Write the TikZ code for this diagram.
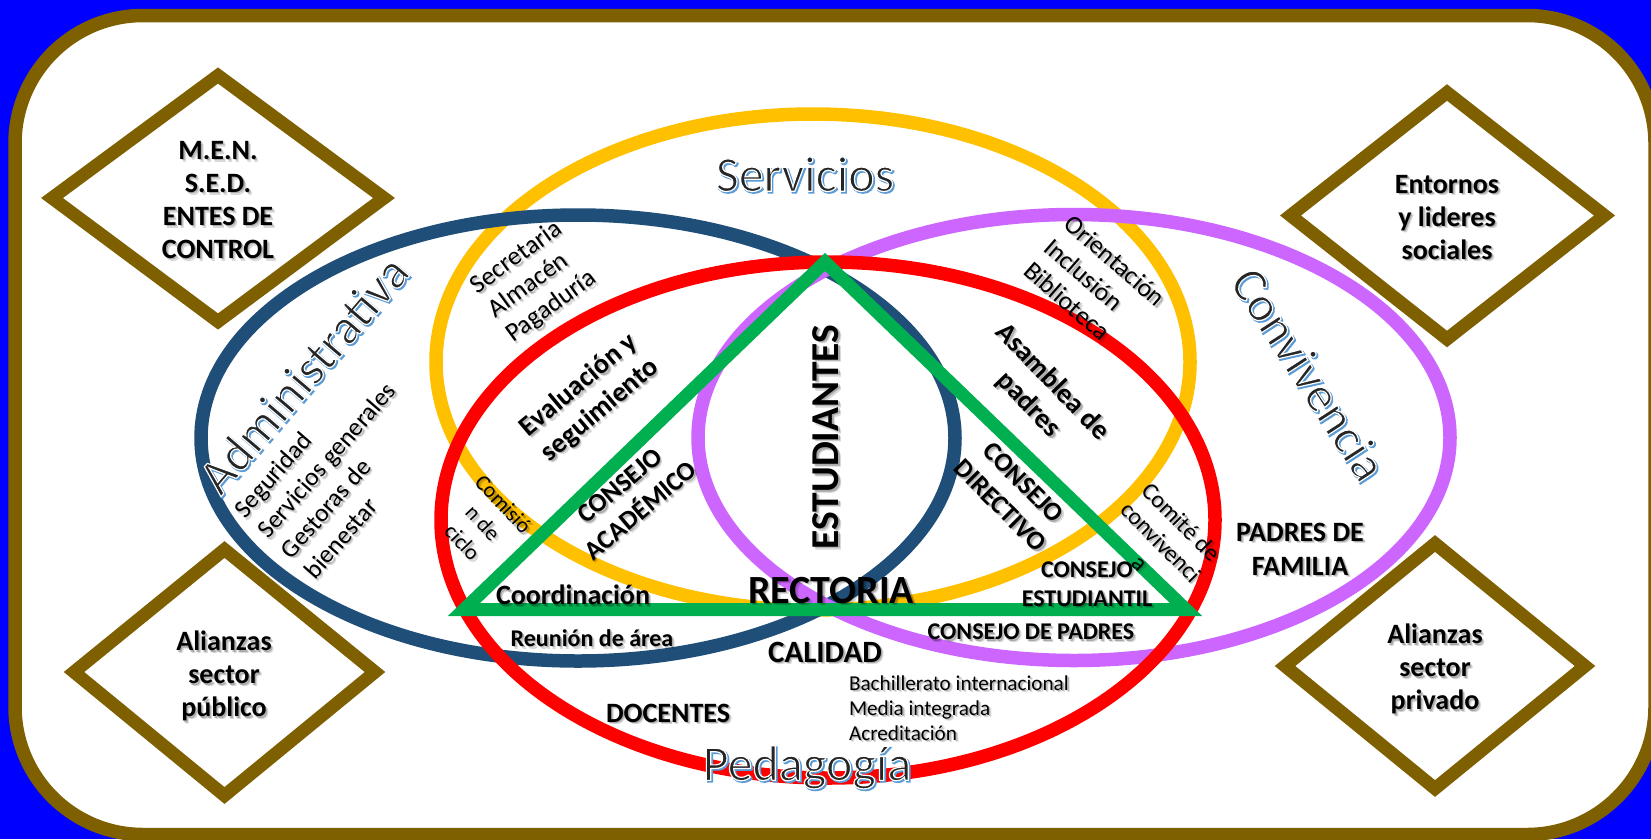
\documentclass[tikz,border=0pt]{standalone}
\usepackage{fontspec}
\setmainfont{Carlito}
\definecolor{framebrown}{HTML}{7F6000}
\definecolor{admblue}{HTML}{1F4E79}
\definecolor{servyellow}{HTML}{FFC000}
\definecolor{convpurple}{HTML}{CC66FF}
\definecolor{pedred}{HTML}{FF0000}
\definecolor{triangreen}{HTML}{00B050}
\definecolor{wablue}{HTML}{5B9BD5}
\definecolor{wadark}{HTML}{262626}
\tikzset{
  ring/.style={draw,line width=13.5pt},
  rhomb/.style={draw=framebrown,line width=13pt,miter limit=10,line join=miter},
  lab/.style={inner sep=0pt,outer sep=0pt,align=center,text depth=0pt},
  bd/.style={font=\bfseries\fontsize{#1}{#1}\selectfont},
  bd/.default=28,
}
% text with a soft drop shadow: lbl{name}{x}{y}{rot}{node options}{text}
\newcommand{\lbl}[6]{%
  \node[lab,#5,rotate=#4,text=black,opacity=.15] at (#2+2.6,#3+2.6) {#6};
  \node[lab,#5,rotate=#4,text=black,opacity=.22] at (#2+1.4,#3+1.4) {#6};
  \node[lab,#5,rotate=#4,text=black] (#1) at (#2,#3) {#6};
}
% wordart title: blue offset copy, then dark fill with white outline
\newcommand{\wordart}[5]{%
  \node[lab,rotate=#4,text=wablue,font=\fontsize{50}{50}\selectfont] at (#2+1.5,#3+1.5)
    {\special{pdf:code 2 Tr 1.6 w}#5\special{pdf:code 0 Tr}};
  \node[lab,rotate=#4,text=wadark,font=\fontsize{50}{50}\selectfont] (#1) at (#2,#3)
    {\special{pdf:code 2 Tr 1.2 w 1 1 1 RG}#5\special{pdf:code 0 Tr}};
}
\newcommand{\blk}[2]{\fontsize{#1}{#2}\selectfont}
\begin{document}
\begin{tikzpicture}[x=1pt,y=-1pt]
\useasboundingbox (0,0) rectangle (1651,839);
\fill[blue] (0,0) rectangle (1651,839);
\filldraw[fill=white,draw=framebrown,line width=13.5pt,rounded corners=128pt] (15,15.5) rectangle (1655,834.5);

% diamonds
\draw[rhomb] (52,198) -- (218,75.5) -- (384,198) -- (218,321.5) -- cycle;
\draw[rhomb] (74,672) -- (224.5,549.5) -- (375,672) -- (224.5,795.5) -- cycle;
\draw[rhomb] (1290.5,215.5) -- (1447,92.5) -- (1604.5,215.5) -- (1447,339) -- cycle;
\draw[rhomb] (1285,666) -- (1435,543.5) -- (1585,666) -- (1435,788.5) -- cycle;

% ellipses
\draw[ring,draw=servyellow] (813,362) ellipse [x radius=377,y radius=248];
\draw[ring,draw=admblue] (578,438) ellipse [x radius=377,y radius=223];
\draw[ring,draw=convpurple] (1074,437.5) ellipse [x radius=376,y radius=223];
\draw[ring,draw=pedred] (828,520) ellipse [x radius=387,y radius=258];

% triangle
\draw[draw=triangreen,line width=13pt,miter limit=10,line join=miter] (825,262) -- (1186,609.5) -- (464,609.5) -- cycle;

% titles
\wordart{tserv}{805}{174}{0}{Servicios}
\wordart{tadm}{303}{374}{49.5}{Administrativa}
\wordart{tconv}{1309}{374}{-57}{Convivencia}
\wordart{tped}{807}{763}{0}{Pedagogía}

% diamond labels
\lbl{dmen}{218}{200}{0}{bd}{M.E.N.\\[5pt]S.E.D.\\[5pt]ENTES DE\\[5pt]CONTROL}
\lbl{dpub}{224}{674}{0}{bd}{Alianzas\\[5pt]sector\\[5pt]público}
\lbl{dent}{1447}{217}{0}{bd}{Entornos\\[5pt]y lideres\\[5pt]sociales}
\lbl{dpri}{1435}{667}{0}{bd}{Alianzas\\[5pt]sector\\[5pt]privado}

% bold labels
\lbl{lest}{826}{437}{90}{bd=39.5}{ESTUDIANTES}
\lbl{lrec}{831}{590}{0}{bd=40}{RECTORIA}
\lbl{lcal}{825}{652}{0}{bd=31}{CALIDAD}
\lbl{lcpa}{1031}{632}{0}{bd=24}{CONSEJO DE PADRES}
\lbl{ldoc}{668}{713}{0}{bd=28}{DOCENTES}
\lbl{lcoo}{573}{595}{0}{bd=28}{Coordinación}
\lbl{lreu}{592}{638}{0}{bd=24}{Reunión de área}
\lbl{lces}{1087}{584}{0}{bd=24}{CONSEJO\\[5pt]ESTUDIANTIL}
\lbl{lpad}{1300}{549}{0}{bd=28}{PADRES DE\\[6pt]FAMILIA}
\lbl{leva}{588}{396}{40}{bd=28}{Evaluación y\\[5pt]seguimiento}
\lbl{laca}{630}{498}{40}{bd=26.5}{CONSEJO\\[6pt]ACADÉMICO}
\lbl{lasa}{1042}{392}{-46}{bd=28}{Asamblea de\\[5pt]padres}
\lbl{ldir}{1012}{494}{-45}{bd=26.5}{CONSEJO\\[6pt]DIRECTIVO}

% regular labels
\lbl{rbac}{849}{708}{0}{anchor=west,align=left,font=\blk{21.2}{25}}{Bachillerato internacional\\Media integrada\\Acreditación}
\lbl{rsec}{533}{280}{36}{align=left,font=\blk{26}{30}}{Secretaria\\Almacén\\Pagaduría}
\lbl{rseg}{338}{470}{49}{align=left,font=\blk{25.5}{31}}{Seguridad\\Servicios generales\\Gestoras de\\bienestar}
\lbl{rori}{1095}{284}{-41}{align=left,font=\blk{26}{31}}{Orientación\\Inclusión\\Biblioteca}
\lbl{rcom}{1161}{542}{-45}{font=\blk{24}{29}}{Comité de\\convivenci\\a}
\lbl{rcic}{483}{523}{-47}{font=\blk{22}{28}}{Comisió\\n de\\ciclo}
\end{tikzpicture}
\end{document}
